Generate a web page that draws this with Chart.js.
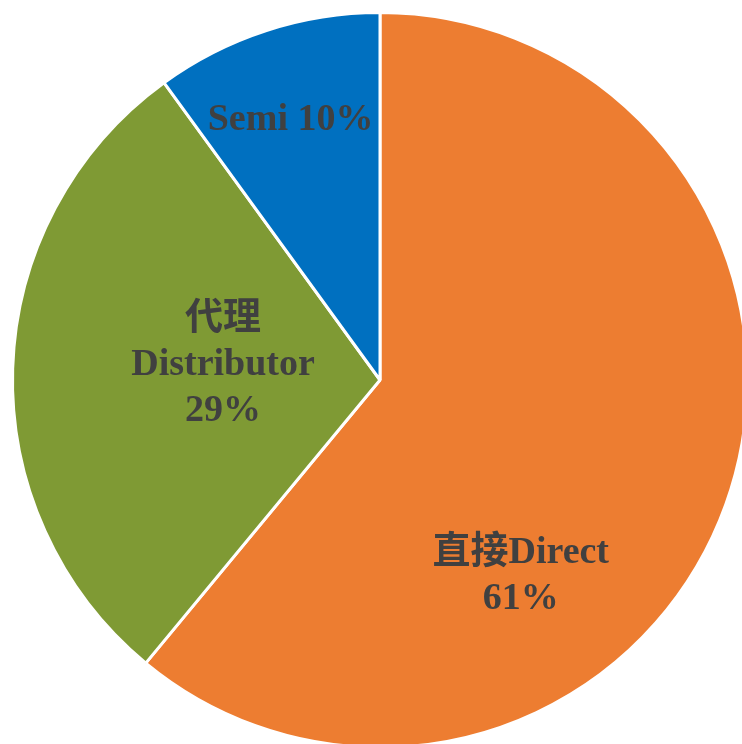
<!DOCTYPE html>
<html>
<head>
<meta charset="utf-8">
<script src="https://cdn.jsdelivr.net/npm/chart.js@4.4.1/dist/chart.umd.min.js"></script>
<style>
  html, body { margin: 0; padding: 0; background: #fff; overflow: hidden; }
  #wrap { width: 760px; height: 760px; }
</style>
</head>
<body>
<div id="wrap"><canvas id="graficoPastel"></canvas></div>
<script>
const categorias = ['直接Direct', '代理 Distributor', 'Semi'];
const valores = [61, 29, 10];
const etiquetas = [['直接Direct', '61%'], ['代理', 'Distributor', '29%'], ['Semi 10%']];
const colores = ['#ED7D31', '#7F9A34', '#0070C0'];

// where each label sits: angle clockwise from top (deg), fraction of radius
const posEtiquetas = [
  { ang: 143.9, r: 0.65 },
  { ang: 276.6, r: 0.43 },
  { ang: 341.2, r: 0.755 }
];

const pluginEtiquetas = {
  id: 'etiquetas',
  afterDatasetsDraw(chart) {
    const ctx = chart.ctx;
    const meta = chart.getDatasetMeta(0);
    ctx.save();
    ctx.fillStyle = '#404040';
    ctx.textAlign = 'center';
    ctx.textBaseline = 'middle';
    ctx.font = 'bold 38px "Liberation Serif", "Noto Sans CJK TC", serif';
    meta.data.forEach((arc, i) => {
      const p = posEtiquetas[i];
      const a = p.ang * Math.PI / 180;
      const cx = arc.x + Math.sin(a) * arc.outerRadius * p.r;
      const cy = arc.y - Math.cos(a) * arc.outerRadius * p.r + 3;
      const lineas = etiquetas[i];
      const lh = 46;
      lineas.forEach((t, j) => {
        ctx.fillText(t, cx, cy + (j - (lineas.length - 1) / 2) * lh);
      });
    });
    ctx.restore();
  }
};

const ctx = document.getElementById('graficoPastel').getContext('2d');
new Chart(ctx, {
  type: 'pie',
  data: {
    labels: categorias,
    datasets: [{
      data: valores,
      backgroundColor: colores,
      borderColor: '#ffffff',
      borderWidth: 3
    }]
  },
  options: {
    responsive: true,
    maintainAspectRatio: false,
    animation: false,
    layout: { padding: { left: 11, top: 11, right: 11, bottom: 11 } },
    plugins: {
      legend: { display: false },
      tooltip: { enabled: false }
    }
  },
  plugins: [pluginEtiquetas]
});
</script>
</body>
</html>
